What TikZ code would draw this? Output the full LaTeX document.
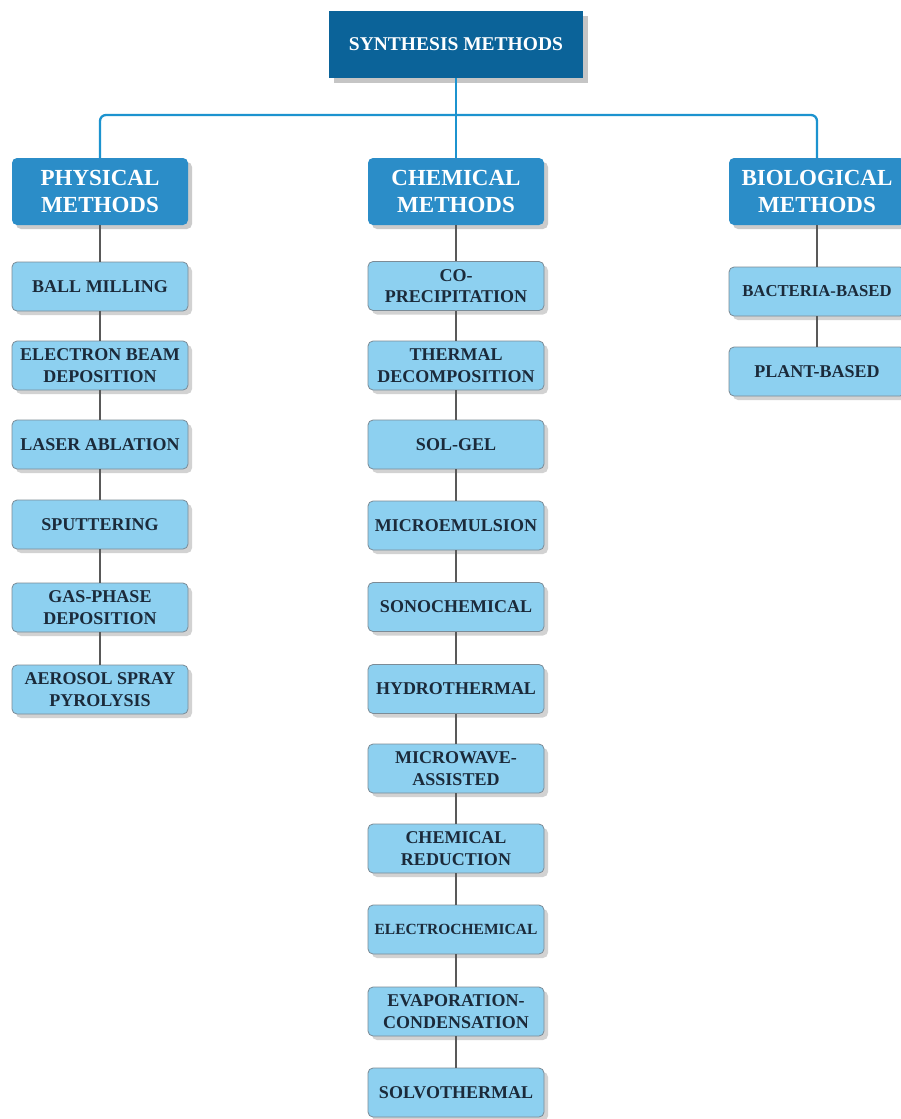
\documentclass[tikz,border=0pt]{standalone}
\usepackage{fontspec}
\setmainfont{Liberation Serif}
\usetikzlibrary{shadows}

\definecolor{topblue}{HTML}{0B6399}
\definecolor{catblue}{HTML}{2B8DC8}
\definecolor{leafblue}{HTML}{8DD0F0}
\definecolor{leafline}{HTML}{7C8B96}
\definecolor{busblue}{HTML}{1C93CF}
\definecolor{leaftext}{HTML}{1B2A3A}

\tikzset{
  topbox/.style={fill=topblue, text=white, minimum width=254, minimum height=67,
    font=\fontsize{19.5}{22}\selectfont\bfseries,
    drop shadow={shadow xshift=5pt, shadow yshift=-5pt, fill=black!45}},
  catbox/.style={fill=catblue, text=white, rounded corners=5pt, align=center,
    minimum width=176, minimum height=67, inner sep=2pt,
    font=\fontsize{23}{27}\selectfont\bfseries,
    drop shadow={shadow xshift=4pt, shadow yshift=-4pt, fill=black!40}},
  leafbox/.style={fill=leafblue, draw=leafline, line width=0.8pt, text=leaftext,
    rounded corners=5pt, align=center, minimum width=176, minimum height=49,
    inner sep=2pt, font=\fontsize{18}{21.5}\selectfont\bfseries,
    drop shadow={shadow xshift=4pt, shadow yshift=-4pt, fill=black!35}},
  busline/.style={draw=busblue, line width=2.3pt, rounded corners=6pt},
  leafline/.style={draw=black!65, line width=1.7pt}
}

\begin{document}
\begin{tikzpicture}[x=1pt,y=-1pt]

      \useasboundingbox[fill=white] (0,0) rectangle (901,1119);

      \node[topbox] (top) at (456,44.5) {SYNTHESIS METHODS};

      \begin{scope}[every node/.style={catbox}]
        \node (phys) at (100,191.5) {PHYSICAL\\METHODS};
        \node (chem) at (456,191.5) {CHEMICAL\\METHODS};
        \node (bio)  at (817,191.5) {BIOLOGICAL\\METHODS};
      \end{scope}

      \coordinate (bus) at (456,115);

      \begin{scope}[every node/.style={leafbox}]
        % physical
        \node (p1) at (100,286.5) {BALL MILLING};
        \node (p2) at (100,365.5) {ELECTRON BEAM\\DEPOSITION};
        \node (p3) at (100,444.5) {LASER ABLATION};
        \node (p4) at (100,524.5) {SPUTTERING};
        \node (p5) at (100,607.5) {GAS-PHASE\\DEPOSITION};
        \node (p6) at (100,689.5) {AEROSOL SPRAY\\PYROLYSIS};
        % chemical
        \node (c1)  at (456,286)    {CO-\\PRECIPITATION};
        \node (c2)  at (456,365.5)  {THERMAL\\DECOMPOSITION};
        \node (c3)  at (456,444.5)  {SOL-GEL};
        \node (c4)  at (456,525.5)  {MICROEMULSION};
        \node (c5)  at (456,607)    {SONOCHEMICAL};
        \node (c6)  at (456,689)    {HYDROTHERMAL};
        \node (c7)  at (456,768.5)  {MICROWAVE-\\ASSISTED};
        \node (c8)  at (456,848.5)  {CHEMICAL\\REDUCTION};
        \node (c9)  at (456,929.5)  {\fontsize{15.5}{18}\selectfont ELECTROCHEMICAL};
        \node (c10) at (456,1011.5) {EVAPORATION-\\CONDENSATION};
        \node (c11) at (456,1092.5) {SOLVOTHERMAL};
        % biological
        \node (b1) at (817,291.5) {\fontsize{16.7}{20}\selectfont BACTERIA-BASED};
        \node (b2) at (817,371.5) {PLANT-BASED};
      \end{scope}

      \path[busline] (top) -- (chem);
      \path[busline] (phys.north) |- (bus) -| (bio.north);

      \begin{scope}[every path/.style={leafline}]
        \path (phys) -- (p1);
        \path (p1) -- (p2);
        \path (p2) -- (p3);
        \path (p3) -- (p4);
        \path (p4) -- (p5);
        \path (p5) -- (p6);
        \path (chem) -- (c1);
        \path (c1) -- (c2);
        \path (c2) -- (c3);
        \path (c3) -- (c4);
        \path (c4) -- (c5);
        \path (c5) -- (c6);
        \path (c6) -- (c7);
        \path (c7) -- (c8);
        \path (c8) -- (c9);
        \path (c9) -- (c10);
        \path (c10) -- (c11);
        \path (bio) -- (b1);
        \path (b1) -- (b2);
      \end{scope}

    \end{tikzpicture}
\end{document}
